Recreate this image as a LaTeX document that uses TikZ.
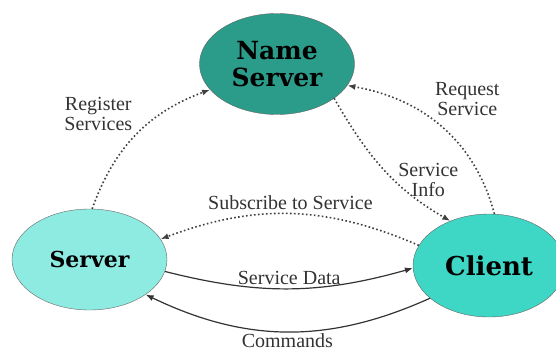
\documentclass[tikz,border=0pt]{standalone}
\usepackage{fontspec}
\setmainfont{Liberation Serif}
\newfontfamily\nodefont{DejaVu Serif}
\usetikzlibrary{shapes.geometric, arrows, arrows.meta, positioning}
\definecolor{nsfill}{HTML}{2B9C89}
\definecolor{serverfill}{HTML}{8EEBE1}
\definecolor{clientfill}{HTML}{3ED6C4}
\tikzset{
    myns/.style = {
        ellipse,
        draw=black!60,
        fill=nsfill,
        minimum width=155pt,
        minimum height=101pt,
        inner sep=0pt,
        align=center,
        font=\nodefont\bfseries\fontsize{25}{27}\selectfont
    },
    myserver/.style = {
        ellipse,
        draw=black!60,
        fill=serverfill,
        minimum width=155pt,
        minimum height=101pt,
        inner sep=0pt,
        font=\nodefont\bfseries\fontsize{22}{24}\selectfont
    },
    myclient/.style = {
        ellipse,
        draw=black!60,
        fill=clientfill,
        minimum width=152pt,
        minimum height=103pt,
        inner sep=0pt,
        font=\nodefont\bfseries\fontsize{26}{28}\selectfont
    },
    mylabel/.style = {
        align=center,
        text=black!80,
        font=\fontsize{20}{20}\selectfont
    },
    mydotted/.style = {
        ->,
        >={Latex[length=8pt,width=6pt]},
        draw=black!75,
        line width=1.6pt,
        dash pattern=on 1.6pt off 2.4pt
    },
    myarrow/.style = {
        ->,
        >={Latex[length=8pt,width=6pt]},
        draw=black!80,
        line width=1.2pt
    }
}
\begin{document}
\begin{tikzpicture}[x=1pt, y=1pt, node distance=195.5pt]

\useasboundingbox (0,0) rectangle (556,-353);
\clip (0,0) rectangle (556,-353);

% Nodes
\node (ns) [myns] at (277,-64) {Name\\Server};
\node (server) [myserver, below of=ns, xshift=-187.5pt] {Server};
\node (client) [myclient, below of=ns, xshift=212pt, yshift=-6pt] {Client};

% Name server links
\draw [mydotted] (server.87) to[bend left=25]
    node[pos=0.5, above left, mylabel] (lblreg) {Register\\Services} (ns.201);
\draw [mydotted] (client.84) to[out=105, in=-10]
    node[pos=0.6, above right, xshift=5pt, yshift=-5pt, mylabel] (lblreq) {Request\\Service} (ns.-17);
\draw [mydotted] (ns.-31) to[out=-60, in=150]
    node[pos=0.6, right, mylabel] (lblinfo) {Service\\Info} (client.131);

% Server and client links
\draw [mydotted] (client.164) to[bend right=22]
    node[midway, above, mylabel] (lblsub) {Subscribe to Service} (server.16);
\draw [myarrow] (server.-9) to[bend right=15]
    node[midway, above, mylabel] (lbldata) {Service Data} (client.182);
\draw [myarrow] (client.209) to[bend left=25]
    node[midway, below, yshift=2pt, mylabel] (lblcmd) {Commands} (server.-32);

\end{tikzpicture}
\end{document}
